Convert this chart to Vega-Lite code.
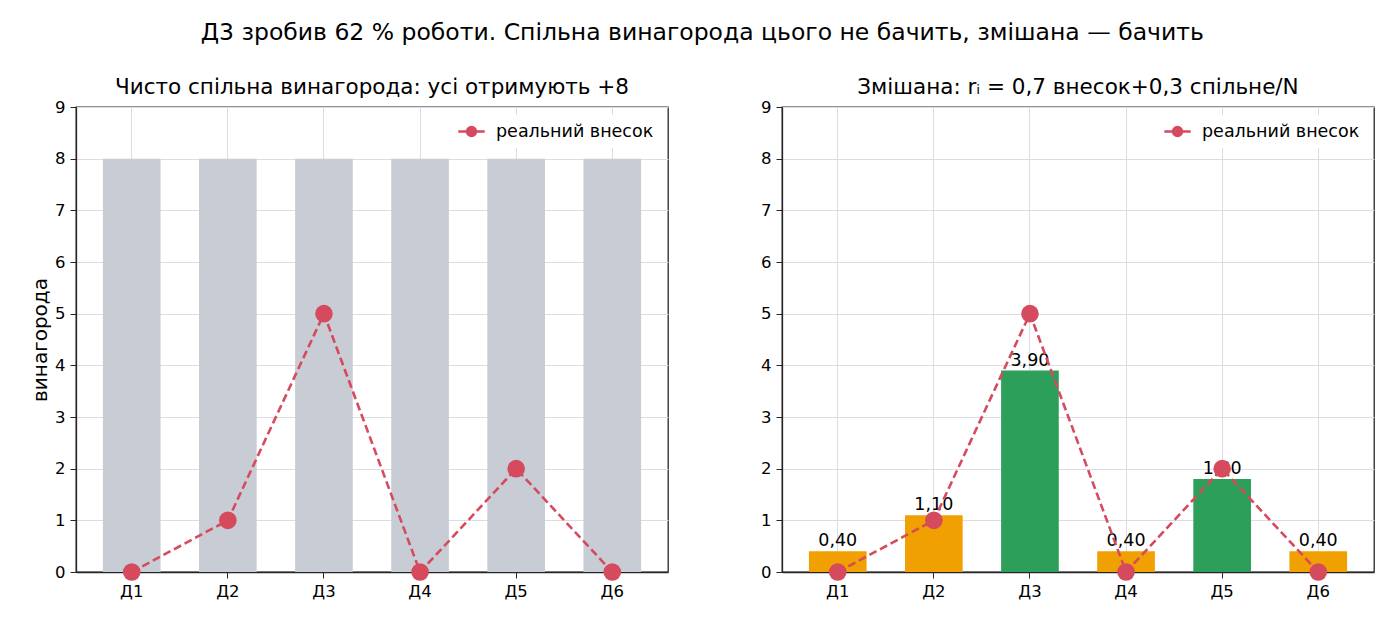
{
  "$schema": "https://vega.github.io/schema/vega-lite/v6.json",
  "background": "white",
  "padding": {"left": 29, "top": 21, "right": 14, "bottom": 5},
  "title": {
    "text": "Д3 зробив 62 % роботи. Спільна винагорода цього не бачить, змішана — бачить",
    "fontSize": 23.5,
    "fontWeight": "normal",
    "font": "DejaVu Sans",
    "color": "black",
    "anchor": "middle",
    "offset": 31
  },
  "datasets": {
    "rows": [
      {"d": "Д1", "shared": 8, "mixed": 0.4, "label": "0,40", "real": 0, "kind": "low"},
      {"d": "Д2", "shared": 8, "mixed": 1.1, "label": "1,10", "real": 1, "kind": "low"},
      {"d": "Д3", "shared": 8, "mixed": 3.9, "label": "3,90", "real": 5, "kind": "high"},
      {"d": "Д4", "shared": 8, "mixed": 0.4, "label": "0,40", "real": 0, "kind": "low"},
      {"d": "Д5", "shared": 8, "mixed": 1.8, "label": "1,80", "real": 2, "kind": "high"},
      {"d": "Д6", "shared": 8, "mixed": 0.4, "label": "0,40", "real": 0, "kind": "low"}
    ]
  },
  "spacing": 90,
  "hconcat": [
    {
      "width": 592,
      "height": 465,
      "title": {"text": "Чисто спільна винагорода: усі отримують +8"},
      "data": {"name": "rows"},
      "encoding": {
        "x": {
          "field": "d",
          "type": "nominal",
          "sort": null,
          "title": null,
          "scale": {"paddingInner": 0.4, "paddingOuter": 0.28},
          "axis": {"labelAngle": 0}
        }
      },
      "layer": [
        {
          "mark": {"type": "bar", "color": "#c8ccd4"},
          "encoding": {
            "y": {
              "field": "shared",
              "type": "quantitative",
              "title": "винагорода",
              "scale": {"domain": [0, 9], "nice": false},
              "axis": {"values": [0, 1, 2, 3, 4, 5, 6, 7, 8, 9]}
            }
          }
        },
        {
          "mark": {"type": "line", "strokeDash": [8, 4], "strokeWidth": 2.6, "point": {"size": 310, "filled": true, "opacity": 1}},
          "encoding": {
            "y": {
              "field": "real",
              "type": "quantitative",
              "title": "винагорода",
              "scale": {"domain": [0, 9], "nice": false},
              "axis": {"values": [0, 1, 2, 3, 4, 5, 6, 7, 8, 9]}
            },
            "color": {
              "datum": "реальний внесок",
              "type": "nominal",
              "scale": {"range": ["#d64a5e"]},
              "legend": {
                "title": null, "orient": "top-right",
                "symbolType": "M -1.5 0 L -0.5 0 M 0.5 0 L 1.5 0 M 0.5 0 A 0.5 0.5 0 1 1 -0.5 0 A 0.5 0.5 0 1 1 0.5 0",
                "symbolSize": 310, "symbolFillColor": "#d64a5e", "symbolStrokeColor": "#d64a5e", "symbolStrokeWidth": 2.6,
                "labelFontSize": 17.5, "fillColor": "white", "padding": 6, "offset": 8, "labelOffset": 14
              }
            }
          }
        }
      ]
    },
    {
      "width": 592,
      "height": 465,
      "title": {"text": "Змішана: rᵢ = 0,7 внесок+0,3 спільне/N"},
      "data": {"name": "rows"},
      "encoding": {
        "x": {
          "field": "d",
          "type": "nominal",
          "sort": null,
          "title": null,
          "scale": {"paddingInner": 0.4, "paddingOuter": 0.28},
          "axis": {"labelAngle": 0}
        }
      },
      "layer": [
        {
          "mark": {"type": "bar"},
          "encoding": {
            "y": {
              "field": "mixed",
              "type": "quantitative",
              "title": null,
              "scale": {"domain": [0, 9], "nice": false},
              "axis": {"values": [0, 1, 2, 3, 4, 5, 6, 7, 8, 9]}
            },
            "fill": {
              "field": "kind",
              "type": "nominal",
              "scale": {"domain": ["low", "high"], "range": ["#f0a000", "#2ca05a"]},
              "legend": null
            }
          }
        },
        {
          "mark": {"type": "text", "baseline": "bottom", "dy": -1, "fontSize": 17.5, "color": "black"},
          "encoding": {
            "y": {"field": "mixed", "type": "quantitative"},
            "text": {"field": "label"}
          }
        },
        {
          "mark": {"type": "line", "strokeDash": [8, 4], "strokeWidth": 2.6, "point": {"size": 310, "filled": true, "opacity": 1}},
          "encoding": {
            "y": {"field": "real", "type": "quantitative"},
            "color": {
              "datum": "реальний внесок",
              "type": "nominal",
              "scale": {"range": ["#d64a5e"]},
              "legend": {
                "title": null, "orient": "top-right",
                "symbolType": "M -1.5 0 L -0.5 0 M 0.5 0 L 1.5 0 M 0.5 0 A 0.5 0.5 0 1 1 -0.5 0 A 0.5 0.5 0 1 1 0.5 0",
                "symbolSize": 310, "symbolFillColor": "#d64a5e", "symbolStrokeColor": "#d64a5e", "symbolStrokeWidth": 2.6,
                "labelFontSize": 17.5, "fillColor": "white", "padding": 6, "offset": 8, "labelOffset": 14
              }
            }
          }
        }
      ]
    }
  ],
  "resolve": {"scale": {"color": "independent"}, "legend": {"color": "independent"}},
  "config": {
    "font": "DejaVu Sans",
    "view": {"stroke": "#262626", "strokeWidth": 1.3},
    "title": {"fontSize": 21.5, "fontWeight": "normal", "color": "black", "offset": 1},
    "axis": {
      "labelFont": "DejaVu Sans",
      "labelFontSize": 16.5,
      "labelColor": "black",
      "titleFont": "DejaVu Sans",
      "titleFontSize": 20,
      "titleFontWeight": "normal",
      "titleColor": "black",
      "grid": true,
      "gridColor": "#dcdce4",
      "gridWidth": 1,
      "domainColor": "#262626",
      "domainWidth": 1.3,
      "tickColor": "#262626",
      "tickSize": 6,
      "labelPadding": 5
    },
    "legend": {"labelFont": "DejaVu Sans", "labelColor": "black"}
  }
}
